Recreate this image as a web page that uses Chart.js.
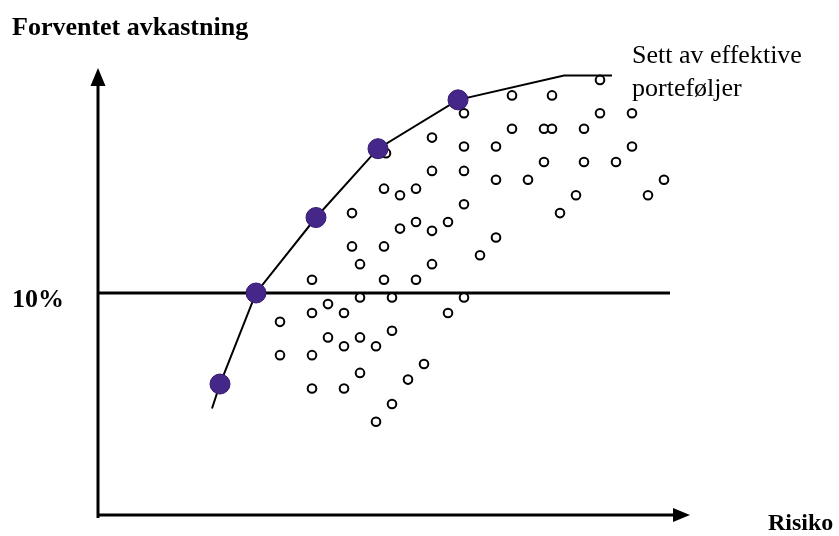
<!DOCTYPE html>
<html>
<head>
<meta charset="utf-8">
<script src="https://cdn.jsdelivr.net/npm/chart.js@4"></script>
<style>
  html, body { margin: 0; padding: 0; background: #fff; }
  #wrap { width: 839px; height: 536px; position: relative; }
</style>
</head>
<body>
<div id="wrap"><canvas id="chart" width="839" height="536"></canvas></div>
<script>
// risk (x) and expected return in % (y) for the individual portfolios
const portfolioRisk = [25.1, 20.7, 22.7, 18.3, 25.1, 26.7, 20.7, 22.3, 22.7, 24.3,
    16.7, 18.3, 19.9, 26.7, 14.4, 16.7, 18.3, 22.3, 24.3, 25.9,
    19.9, 21.5, 28.3, 14.3, 15.1, 15.9, 23.9, 27.5, 18.3, 23.1,
    12.7, 15.1, 15.9, 16.7, 17.5, 19.9, 12.7, 14.3, 19.1, 13.1,
    16.7, 10.7, 14.3, 15.9, 13.1, 14.7, 18.3, 11.5, 10.7, 12.3,
    17.5, 9.1, 14.7, 11.5, 13.1, 12.3, 13.9, 9.1, 10.7, 16.3,
    13.1, 15.5, 10.7, 12.3, 14.7, 13.9];
const portfolioReturn = [19.6, 18.9, 18.9, 18.1, 18.1, 18.1, 17.4, 17.4, 17.4, 17.4,
    17.0, 16.6, 16.6, 16.6, 16.3, 15.5, 15.5, 15.9, 15.9, 15.9,
    15.1, 15.1, 15.1, 14.7, 14.4, 14.7, 14.4, 14.4, 14.0, 13.6,
    13.6, 12.9, 13.2, 12.8, 13.2, 12.5, 12.1, 12.1, 11.7, 11.3,
    11.3, 10.6, 10.6, 10.6, 9.8, 9.8, 9.8, 9.5, 9.1, 9.1,
    9.1, 8.7, 8.3, 8.0, 8.0, 7.6, 7.6, 7.2, 7.2, 6.8,
    6.4, 6.1, 5.7, 5.7, 5.0, 4.2];

// efficient portfolios (filled dots)
const efficientRisk = [6.1, 7.9, 10.9, 14.0, 18.0];
const efficientReturn = [5.9, 10.0, 13.4, 16.5, 18.7];

// efficient frontier curve
const frontierRisk = [5.7, 6.1, 7.9, 10.9, 14.0, 18.0, 23.3, 25.7];
const frontierReturn = [4.8, 5.9, 10.0, 13.4, 16.5, 18.7, 19.8, 19.8];

// the 10 % line
const tickValues = [10];
const tickLabels = ['10%'];
const lineEndRisk = 28.6;

const yTitle = 'Forventet avkastning';
const xTitle = 'Risiko';
const noteLines = ['Sett av effektive', 'porteføljer'];

const serif = '"Liberation Serif", "Times New Roman", serif';

const toPoints = (xs, ys) => xs.map((x, i) => ({ x: x, y: ys[i] }));

const refLine = [{ x: 0, y: tickValues[0] }, { x: lineEndRisk, y: tickValues[0] }];

// axes with arrow heads, texts
const decorations = {
    id: 'decorations',
    beforeDatasetsDraw(chart) {
        const ctx = chart.ctx;
        const area = chart.chartArea;
        const x0 = chart.scales.x.getPixelForValue(0);
        const y0 = chart.scales.y.getPixelForValue(0);
        ctx.save();
        ctx.strokeStyle = '#000';
        ctx.fillStyle = '#000';
        ctx.lineWidth = 3;
        ctx.beginPath();
        ctx.moveTo(x0, y0 + 3);
        ctx.lineTo(x0, area.top + 10);
        ctx.moveTo(x0 - 1.5, y0);
        ctx.lineTo(area.right - 14, y0);
        ctx.stroke();
        // arrow up
        ctx.beginPath();
        ctx.moveTo(x0, area.top - 3);
        ctx.lineTo(x0 - 7.5, area.top + 15);
        ctx.lineTo(x0 + 7.5, area.top + 15);
        ctx.closePath();
        ctx.fill();
        // arrow right
        const tipX = chart.scales.x.getPixelForValue(29.6);
        ctx.beginPath();
        ctx.moveTo(tipX, y0);
        ctx.lineTo(tipX - 17, y0 - 7);
        ctx.lineTo(tipX - 17, y0 + 7);
        ctx.closePath();
        ctx.fill();

        ctx.textBaseline = 'alphabetic';
        ctx.font = 'bold 26px ' + serif;
        ctx.fillText(yTitle, 12, 35);
        tickLabels.forEach((t, i) => {
            ctx.fillText(t, 12, chart.scales.y.getPixelForValue(tickValues[i]) + 14);
        });
        ctx.font = 'bold 24px ' + serif;
        ctx.fillText(xTitle, 768, 530);
        ctx.font = '26px ' + serif;
        ctx.fillText(noteLines[0], 632, 63);
        ctx.fillText(noteLines[1], 632, 96);
        ctx.restore();
    }
};

new Chart(document.getElementById('chart'), {
    type: 'scatter',
    data: {
        datasets: [
            {
                label: 'efficient',
                data: toPoints(efficientRisk, efficientReturn),
                pointRadius: 10,
                pointBackgroundColor: '#45278a',
                pointBorderColor: '#34196e',
                pointBorderWidth: 1,
                order: 0
            },
            {
                label: 'frontier',
                type: 'line',
                data: toPoints(frontierRisk, frontierReturn),
                borderColor: '#000',
                borderWidth: 2,
                pointRadius: 0,
                tension: 0,
                fill: false,
                order: 1
            },
            {
                label: 'portfolios',
                data: toPoints(portfolioRisk, portfolioReturn),
                pointRadius: 4.3,
                pointBackgroundColor: '#fff',
                pointBorderColor: '#000',
                pointBorderWidth: 2,
                order: 2
            },
            {
                label: '10%',
                type: 'line',
                data: refLine,
                borderColor: '#000',
                borderWidth: 3,
                pointRadius: 0,
                fill: false,
                order: 3
            }
        ]
    },
    options: {
        responsive: false,
        animation: false,
        devicePixelRatio: 1,
        layout: { padding: { left: 98, top: 71, right: 141, bottom: 21 } },
        plugins: {
            legend: { display: false },
            tooltip: { enabled: false }
        },
        scales: {
            x: { type: 'linear', display: false, min: 0, max: 30 },
            y: { type: 'linear', display: false, min: 0, max: 20 }
        }
    },
    plugins: [decorations]
});
</script>
</body>
</html>
